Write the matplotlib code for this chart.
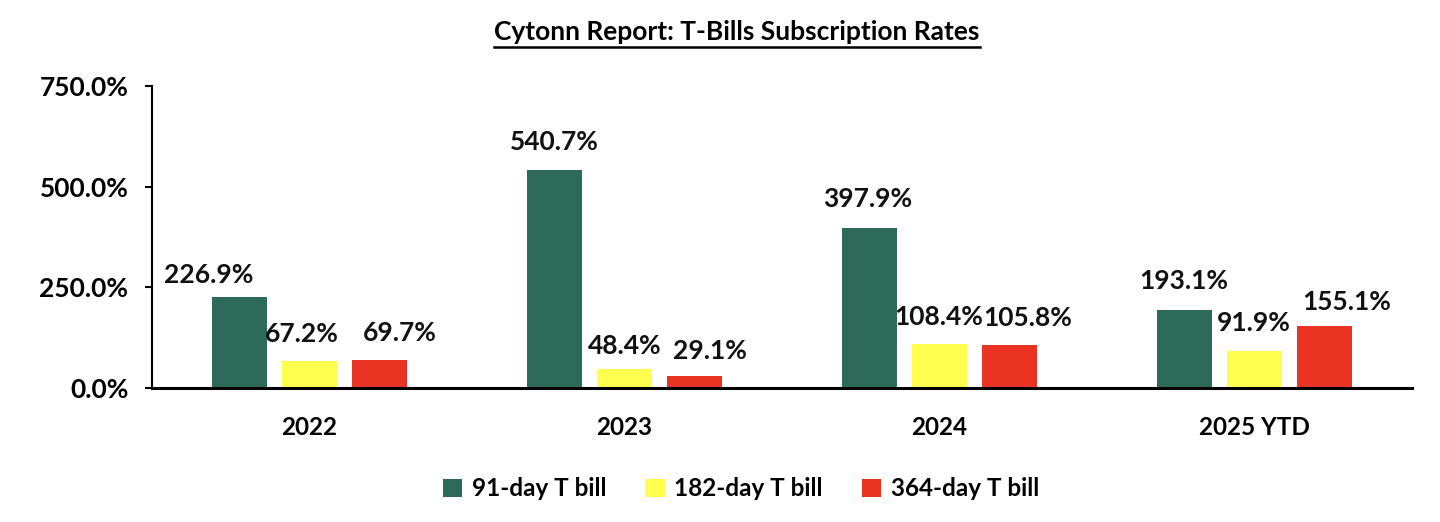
import numpy as np
import matplotlib
matplotlib.use("Agg")
import matplotlib.pyplot as plt
from matplotlib.lines import Line2D
from matplotlib.patches import Patch

plt.rcParams['font.family'] = ['Lato', 'DejaVu Sans']
plt.rcParams['font.weight'] = 'bold'

years = ['2022', '2023', '2024', '2025 YTD']
series = ['91-day T bill', '182-day T bill', '364-day T bill']
bill_91 = [226.9, 540.7, 397.9, 193.1]
bill_182 = [67.2, 48.4, 108.4, 91.9]
bill_364 = [69.7, 29.1, 105.8, 155.1]
yticks = [0, 250, 500, 750]

colors = ['#2D6A5A', '#FFFF50', '#E93424']
# label nudges in pixels (dx, dy) relative to bar top, as placed in the original
nudges = [
    [(-31, 22), (0, 28), (-2, 29), (-1, 29)],
    [(-8, 27), (0, 23), (-1, 27), (-1, 28)],
    [(20, 27), (16, 25), (18, 27), (22, 24)],
]

fig = plt.figure(figsize=(14.4, 5.22), dpi=100)
ax = fig.add_axes([152 / 1440, 1 - 388 / 522, 1260 / 1440, 302 / 522])

x = np.arange(len(years))
width = 0.175
step = 0.222
data = [bill_91, bill_182, bill_364]
for i, vals in enumerate(data):
    pos = x + (i - 1) * step
    ax.bar(pos, vals, width, color=colors[i], label=series[i], zorder=2)
    for j, v in enumerate(vals):
        dx, dy = nudges[i][j]
        ax.annotate(f"{v:.1f}%", (pos[j], v), xytext=(dx, dy),
                    textcoords='offset pixels', ha='center', va='center',
                    fontsize=19, fontweight='bold', color='#111111')

ax.set_xlim(-0.5, 3.5)
ax.set_ylim(0, 750)
ax.set_yticks(yticks)
ax.set_yticklabels([f"{t:.1f}%" for t in yticks], fontsize=19, fontweight='bold')
ax.set_xticks(x)
ax.set_xticklabels(years, fontsize=17.5, fontweight='bold')
ax.tick_params(axis='x', length=0, pad=20)
ax.tick_params(axis='y', direction='out', length=5, width=1.5, pad=12)
for s in ['top', 'right']:
    ax.spines[s].set_visible(False)
ax.spines['left'].set_linewidth(1.5)
ax.spines['bottom'].set_linewidth(2.2)

handles = [Patch(facecolor=c, edgecolor='none') for c in colors]
fig.legend(handles, series, loc='center', bbox_to_anchor=(741 / 1440, 1 - 489 / 522),
           ncol=3, frameon=False, handlelength=0.8, handleheight=0.8,
           handletextpad=0.4, columnspacing=1.6,
           prop={'size': 17.5, 'weight': 'bold'})

title = fig.text(737 / 1440, 1 - 32 / 522, "Cytonn Report: T-Bills Subscription Rates",
                 ha='center', va='center', fontsize=19, fontweight='bold')
fig.canvas.draw()
bb = title.get_window_extent().transformed(fig.transFigure.inverted())
uy = bb.y0 - 3 / 522
fig.add_artist(Line2D([bb.x0, bb.x1], [uy, uy], transform=fig.transFigure,
                      color='black', linewidth=1.8))

fig.savefig('out.png', dpi=100, facecolor='white')
